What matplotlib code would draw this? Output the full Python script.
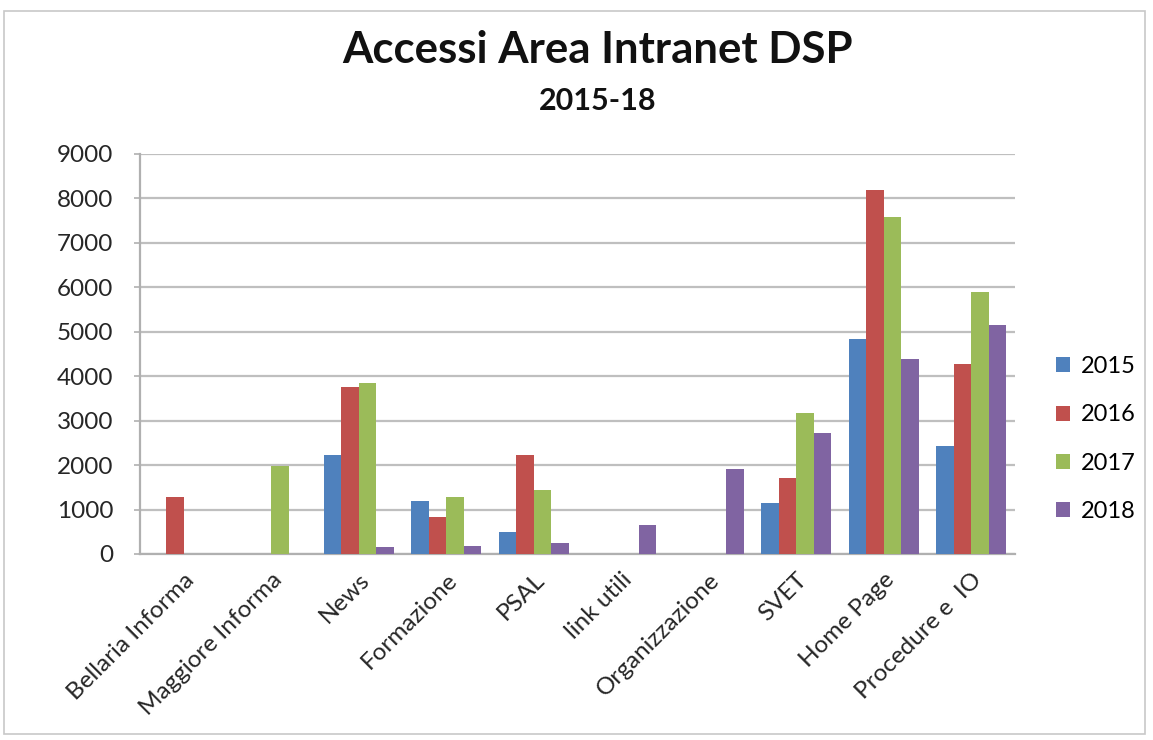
import matplotlib.pyplot as plt
import matplotlib.patches as mpatches
import numpy as np

# Data
categories = ["Bellaria Informa", "Maggiore Informa", "News", "Formazione", "PSAL",
              "link utili", "Organizzazione", "SVET", "Home Page", "Procedure e  IO"]
years = ["2015", "2016", "2017", "2018"]
v2015 = [0, 0, 2230, 1190, 490, 0, 0, 1150, 4830, 2425]
v2016 = [1280, 0, 3760, 840, 2230, 0, 0, 1705, 8190, 4280]
v2017 = [0, 1990, 3850, 1280, 1430, 0, 0, 3180, 7575, 5900]
v2018 = [0, 0, 150, 175, 240, 660, 1915, 2720, 4395, 5160]
series = [v2015, v2016, v2017, v2018]
colors = ["#4F81BD", "#C0504D", "#9BBB59", "#8064A2"]

plt.rcParams['font.family'] = ['Lato', 'DejaVu Sans']

fig = plt.figure(figsize=(11.53, 7.4), dpi=100)
ax = fig.add_axes([140 / 1153, 1 - 554 / 740, 875 / 1153, 400 / 740])

# outer chart border
fig.add_artist(mpatches.Rectangle((4 / 1153, 6 / 740), 1141 / 1153, 723 / 740,
                                  transform=fig.transFigure, fill=False,
                                  edgecolor="#c8c8c8", linewidth=1.2))

x = np.arange(len(categories))
width = 0.2
for i, (vals, col, yr) in enumerate(zip(series, colors, years)):
    ax.bar(x + (i - 1.5) * width, vals, width, color=col, label=yr, zorder=3)

ax.set_xlim(-0.5, len(categories) - 0.5)
ax.set_ylim(0, 9000)
ax.set_yticks(np.arange(0, 9001, 1000))
ax.yaxis.grid(True, color="#bfbfbf", linewidth=1.6, zorder=0)
ax.set_axisbelow(True)

for side in ["top", "right"]:
    ax.spines[side].set_visible(False)
for side in ["left", "bottom"]:
    ax.spines[side].set_color("#b0b0b0")
    ax.spines[side].set_linewidth(1.6)

ax.tick_params(axis="y", length=4, width=1.2, color="#b0b0b0", pad=15,
               labelsize=17.5, labelcolor="#262626")
ax.tick_params(axis="x", length=0, pad=11, labelsize=17.5, labelcolor="#262626")
ax.set_xticks(x)
ax.set_xticklabels(categories, rotation=45, ha="right", va="top",
                   rotation_mode="anchor")

fig.text(0.518, 1 - 50 / 740, "Accessi Area Intranet DSP", ha="center", va="center",
         fontsize=31.5, fontweight="bold", color="#111111")
fig.text(0.518, 1 - 101 / 740, "2015-18", ha="center", va="center",
         fontsize=22, fontweight="bold", color="#111111")

leg = fig.legend(loc="upper left", bbox_to_anchor=(1056 / 1153, 1 - 356 / 740),
                 frameon=False, fontsize=17, handlelength=0.6, handleheight=0.6,
                 handletextpad=0.45, labelspacing=1.16, borderpad=0,
                 borderaxespad=0)

fig.savefig("out.png", dpi=100)
